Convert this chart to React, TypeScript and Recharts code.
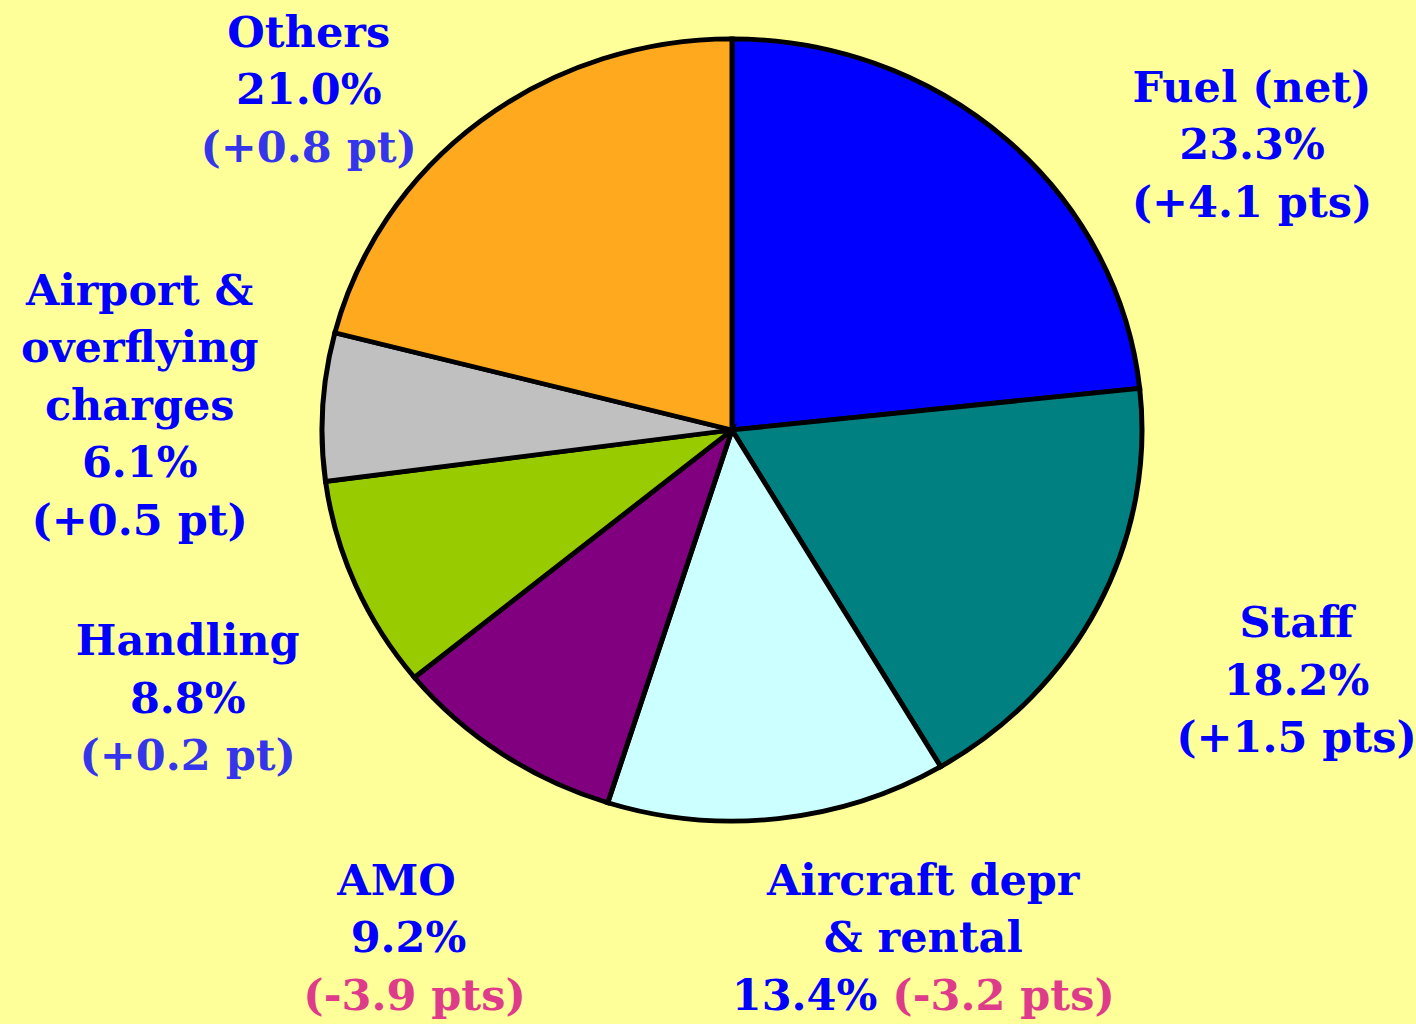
import { Cell, Pie, PieChart, Sector } from 'recharts';

// cost breakdown, clockwise from 12 o'clock
const categories = ['Fuel (net)', 'Staff', 'Aircraft depr & rental', 'AMO', 'Handling', 'Airport & overflying charges', 'Others'];
const shares = [23.3, 18.2, 13.4, 9.2, 8.8, 6.1, 21.0];
const changes = ['+4.1 pts', '+1.5 pts', '-3.2 pts', '-3.9 pts', '+0.2 pt', '+0.5 pt', '+0.8 pt'];

// how each category name wraps in its label
const nameLines = [
  ['Fuel (net)'],
  ['Staff'],
  ['Aircraft depr', '& rental'],
  ['AMO'],
  ['Handling'],
  ['Airport &', 'overflying', 'charges'],
  ['Others'],
];

const SLICE_COLORS = ['#0000FF', '#008080', '#CCFFFF', '#800080', '#99CC00', '#C0C0C0', '#FFA91F'];
const NAME_COLOR = '#0000FF';
const UP_COLORS = ['#0000FF', '#0000FF', '#0000FF', '#0000FF', '#3535EC', '#0000FF', '#3535EC'];
const DOWN_COLOR = '#DE3C8A';
// label block centre relative to the slice's outer-edge midpoint
const LABEL_OFFSETS: Array<[number, number]> = [
  [246, 18],
  [198, 65],
  [145, 99],
  [-95, 167],
  [-168, 104],
  [-183, -2],
  [-172, -18],
];
// small per-line horizontal nudges (AMO label is ragged in the original)
const LINE_DX: number[][] = [[], [], [], [-10, 2, 8], [], [], []];
const INLINE_CHANGE = [false, false, true, false, false, false, false];

const FONT = '"DejaVu Serif", Georgia, serif';
const FONT_SIZE = 43;
const LINE_H = 57.5;
const RADIAN = Math.PI / 180;
const SQUASH = 0.954; // the original pie is slightly flattened

const data = categories.map((name, i) => ({ name, value: shares[i] }));

function renderSlice(props: any) {
  const { cy } = props;
  return (
    <g transform={`translate(0 ${cy}) scale(1 ${SQUASH}) translate(0 ${-cy})`}>
      <Sector {...props} />
    </g>
  );
}

function renderLabel(props: any) {
  const { cx, cy, midAngle, outerRadius, index } = props;
  const px = cx + outerRadius * Math.cos(-midAngle * RADIAN);
  const py = cy + outerRadius * Math.sin(-midAngle * RADIAN);
  const [dx, dy] = LABEL_OFFSETS[index];
  const x = px + dx;
  const y = py + dy;
  const change = changes[index];
  const changeColor = change.startsWith('-') ? DOWN_COLOR : UP_COLORS[index];
  const pct = `${shares[index].toFixed(1)}%`;
  const lines: Array<Array<{ text: string; color: string }>> = nameLines[index].map((t) => [
    { text: t, color: NAME_COLOR },
  ]);
  if (INLINE_CHANGE[index]) {
    lines.push([
      { text: pct + ' ', color: NAME_COLOR },
      { text: `(${change})`, color: changeColor },
    ]);
  } else {
    lines.push([{ text: pct, color: NAME_COLOR }]);
    lines.push([{ text: `(${change})`, color: changeColor }]);
  }
  const firstY = y - ((lines.length - 1) / 2) * LINE_H + 16;
  return (
    <text
      key={`label-${index}`}
      x={x}
      y={firstY}
      textAnchor="middle"
      fontFamily={FONT}
      fontWeight="bold"
      fontSize={FONT_SIZE}
    >
      {lines.map((parts, li) => (
        <tspan key={li} x={x + (LINE_DX[index][li] ?? 0)} y={firstY + li * LINE_H}>
          {parts.map((p, pi) => (
            <tspan key={pi} fill={p.color}>
              {p.text}
            </tspan>
          ))}
        </tspan>
      ))}
    </text>
  );
}

export default function App() {
  return (
    <div
      style={{
        position: 'absolute',
        left: 0,
        top: 0,
        width: 1416,
        height: 1024,
        background: '#FFFF99',
      }}
    >
      <PieChart width={1416} height={1024} margin={{ top: 0, right: 0, bottom: 0, left: 0 }}>
        <Pie
          data={data}
          dataKey="value"
          nameKey="name"
          cx={732}
          cy={430}
          outerRadius={410}
          startAngle={90}
          endAngle={-270}
          stroke="#000000"
          strokeWidth={5}
          shape={renderSlice}
          label={renderLabel}
          labelLine={false}
          isAnimationActive={false}
        >
          {data.map((d, i) => (
            <Cell key={d.name} fill={SLICE_COLORS[i]} />
          ))}
        </Pie>
      </PieChart>
    </div>
  );
}
